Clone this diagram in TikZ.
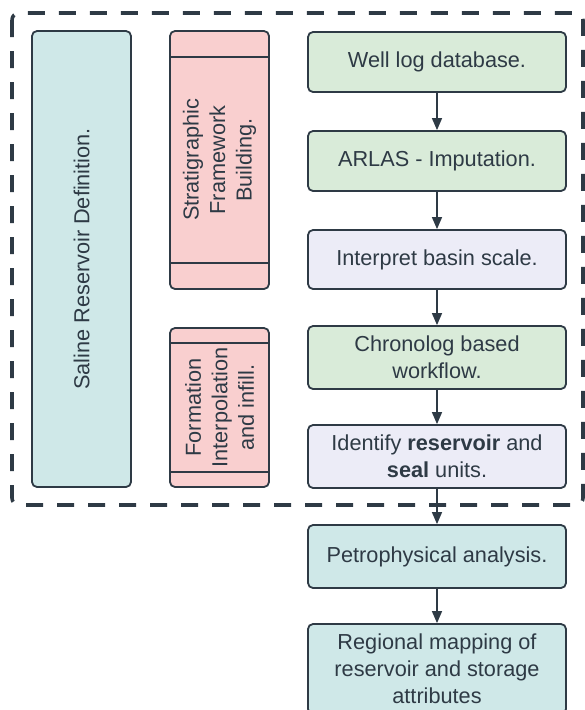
\documentclass[tikz,border=0pt]{standalone}
\usepackage{fontspec}
\setmainfont{Liberation Sans}
\usetikzlibrary{arrows.meta}
\definecolor{ink}{HTML}{2E3A45}
\definecolor{fgreen}{HTML}{D9EBD9}
\definecolor{fcyan}{HTML}{CFE8E8}
\definecolor{fpink}{HTML}{F9CFCF}
\definecolor{flav}{HTML}{ECECF7}
\tikzset{
  box/.style={draw=ink, line width=1.8pt, rounded corners=5pt, inner sep=0pt, text=ink, align=center,
    font=\fontsize{21.7}{27}\selectfont},
  rbox/.style={box, minimum width=258pt},
  vtext/.style={rotate=90, text=ink, align=center, font=\fontsize{21.7}{26.5}\selectfont},
  flow/.style={draw=ink, line width=1.4pt, -{Triangle[length=12pt,width=10pt]}},
  bigdash/.style={draw=ink, line width=3.6pt, dash pattern=on 17pt off 14pt, rounded corners=7pt},
}
\begin{document}
\begin{tikzpicture}[x=1pt,y=-1pt]
\useasboundingbox (0,0) rectangle (585,710);
\begin{scope}
\clip (0,0) rectangle (585,710);
% dashed group
\draw[bigdash] (12,13) rectangle (583,505);
% left column
\node[box, fill=fcyan, minimum width=99pt, minimum height=456pt] (saline) at (81.5,259) {};
\node[vtext] (salinet) at (saline) {Saline Reservoir Definition.};
\node[box, fill=fpink, minimum width=99pt, minimum height=258pt] (strat) at (219.5,160) {};
\draw[ink, line width=1.4pt] (170,57) -- (269,57);
\draw[ink, line width=1.4pt] (170,263) -- (269,263);
\node[vtext] (stratt) at (strat) {Stratigraphic\\Framework\\Building.};
\node[box, fill=fpink, minimum width=99pt, minimum height=159pt] (form) at (219.5,407.5) {};
\draw[ink, line width=1.4pt] (170,343) -- (269,343);
\draw[ink, line width=1.4pt] (170,472) -- (269,472);
\node[vtext] (formt) at (form) {Formation\\Interpolation\\and infill.};
% right column
\node[rbox, fill=fgreen, minimum height=60pt] (well) at (437,62) {Well log database.};
\node[rbox, fill=fgreen, minimum height=60pt] (arlas) at (437,161) {ARLAS - Imputation.};
\node[rbox, fill=flav, minimum height=59pt] (interp) at (437,259.5) {Interpret basin scale.};
\node[rbox, fill=fgreen, minimum height=63pt] (chrono) at (437,357.5) {Chronolog based\\workflow.};
\node[rbox, fill=flav, minimum height=63pt] (ident) at (437,456.5) {Identify \textbf{reservoir} and\\\textbf{seal} units.};
\node[rbox, fill=fcyan, minimum height=63pt] (petro) at (437,556.5) {Petrophysical analysis.};
\node[rbox, fill=fcyan, minimum height=90pt] (regional) at (437,669) {Regional mapping of\\reservoir and storage\\attributes};
% connectors
\draw[flow] (well) -- (arlas);
\draw[flow] (arlas) -- (interp);
\draw[flow] (interp) -- (chrono);
\draw[flow] (chrono) -- (ident);
\draw[flow] (ident) -- (petro);
\draw[flow] (petro) -- (regional);
\end{scope}
\end{tikzpicture}
\end{document}
